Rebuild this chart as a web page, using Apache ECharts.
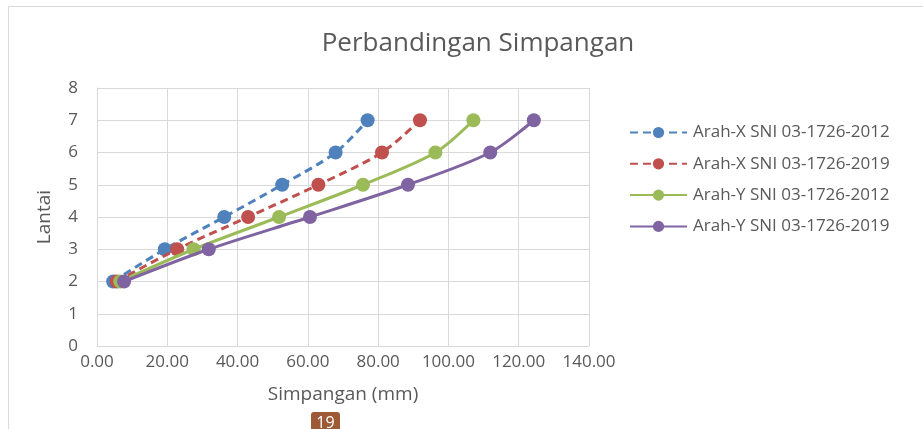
<!DOCTYPE html>
<html><head><meta charset="utf-8">
<script src="https://cdn.jsdelivr.net/npm/echarts@6/dist/echarts.min.js"></script>
<style>html,body{margin:0;padding:0;background:#fff;}#c{width:923px;height:429px;}</style>
</head><body><div id="c"></div>
<script>
const floors = [2, 3, 4, 5, 6, 7];
const seriesNames = ['Arah-X SNI 03-1726-2012', 'Arah-X SNI 03-1726-2019', 'Arah-Y SNI 03-1726-2012', 'Arah-Y SNI 03-1726-2019'];
const xSni2012 = [4.6, 19.3, 36.2, 52.7, 67.9, 77.0];
const xSni2019 = [5.6, 22.8, 43.0, 63.0, 81.1, 91.9];
const ySni2012 = [6.6, 27.5, 51.8, 75.7, 96.3, 107.1];
const ySni2019 = [7.7, 31.8, 60.6, 88.5, 111.9, 124.3];
const xTicks = ['0.00', '20.00', '40.00', '60.00', '80.00', '100.00', '120.00', '140.00'];
const colors = ['#4F81BD', '#C0504D', '#9BBB59', '#8064A2'];
const dashed = [true, true, false, false];
const values = [xSni2012, xSni2019, ySni2012, ySni2019];

const font = '"Open Sans", Lato, sans-serif';
const chart = echarts.init(document.getElementById('c'), null, {renderer: 'canvas'});
chart.setOption({
  animation: false,
  backgroundColor: '#fff',
  title: {
    text: 'Perbandingan Simpangan', left: 473, top: 26, textAlign: 'center',
    textStyle: {fontFamily: font, fontSize: 26, fontWeight: 'normal', color: '#595959'}
  },
  graphic: [
    {type: 'rect', shape: {x: 8.5, y: 6.5, width: 930, height: 440}, style: {fill: 'none', stroke: '#d9d9d9', lineWidth: 1}, z: -1},
    {type: 'rect', shape: {x: 311, y: 412, width: 29, height: 30, r: 3}, style: {fill: '#9C5A36'}},
    {type: 'text', x: 325.5, y: 423, style: {text: '19', fill: '#fff', font: '16px ' + font, align: 'center', verticalAlign: 'middle'}}
  ],
  legend: {
    orient: 'vertical', left: 624, top: 119, itemGap: 14.3, itemWidth: 57, itemHeight: 14,
    data: seriesNames,
    textStyle: {fontFamily: font, fontSize: 17, color: '#595959', padding: [0, 0, 0, 1]}
  },
  grid: {left: 97, right: 334, top: 88, bottom: 83},
  xAxis: {
    type: 'value', min: 0, max: 140, interval: 20,
    name: 'Simpangan (mm)', nameLocation: 'middle', nameGap: 39,
    nameTextStyle: {fontFamily: font, fontSize: 19, color: '#595959'},
    axisLine: {show: true, lineStyle: {color: '#d9d9d9'}},
    axisTick: {show: false},
    splitLine: {show: true, lineStyle: {color: '#d9d9d9'}},
    axisLabel: {fontFamily: font, fontSize: 17, color: '#595959', margin: 8,
      formatter: (v) => xTicks[Math.round(v / 20)]}
  },
  yAxis: {
    type: 'value', min: 0, max: 8, interval: 1,
    name: 'Lantai', nameLocation: 'middle', nameGap: 43, nameRotate: 90,
    nameTextStyle: {fontFamily: font, fontSize: 19, color: '#595959'},
    axisLine: {show: true, lineStyle: {color: '#d9d9d9'}},
    axisTick: {show: false},
    splitLine: {show: true, lineStyle: {color: '#d9d9d9'}},
    axisLabel: {fontFamily: font, fontSize: 17, color: '#595959', margin: 19}
  },
  series: seriesNames.map((name, i) => ({
    name: name, type: 'line', smooth: 0.3,
    data: values[i].map((v, j) => [v, floors[j]]),
    symbol: 'circle', symbolSize: 14,
    itemStyle: {color: colors[i]},
    lineStyle: {color: colors[i], width: 3, type: dashed[i] ? [8, 5] : 'solid'},
    z: 2 + i
  }))
});
</script></body></html>
